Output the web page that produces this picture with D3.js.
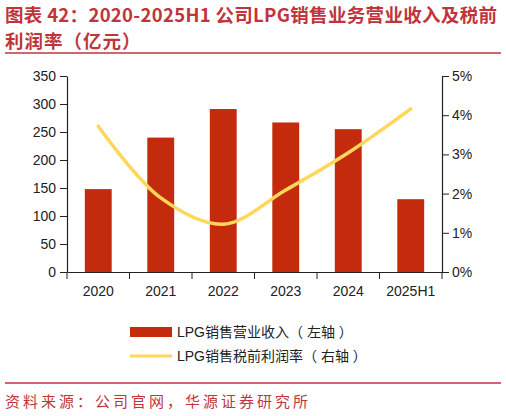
<!DOCTYPE html>
<html>
  <head>
    <meta charset="UTF-8">
    <title>LPG销售业务营业收入及税前利润率</title>
    <script src="https://d3js.org/d3.v7.min.js" charset="utf-8"></script>
    <style>
      body { margin: 0; background: #fff; }
    </style>
  </head>
  <body>
    <script>
        var w = 506;
        var h = 416;

        var years = ["2020", "2021", "2022", "2023", "2024", "2025H1"];
        var revenue = [148, 240, 291, 267, 255, 130];
        var margin = [3.72, 1.89, 1.22, 2.09, 3.04, 4.16];
        var leftTicks = [0, 50, 100, 150, 200, 250, 300, 350];
        var rightTicks = [0, 1, 2, 3, 4, 5];

        var titleColor = "#C0343C";
        var barColor = "#C42A0C";
        var lineColor = "#FFD75A";
        var sans = "'Liberation Sans', Arial, 'Noto Sans CJK SC', sans-serif";
        var cjk = "'Noto Sans CJK SC', sans-serif";

        var svg = d3.select("body").append("svg")
            .attr("width", w)
            .attr("height", h);

        //title
        var title = svg.append("text")
            .attr("fill", titleColor)
            .attr("font-family", cjk)
            .attr("font-weight", "bold")
            .attr("font-size", "18.5px");
        title.append("tspan").attr("x", 5).attr("y", 22)
            .attr("textLength", 492).attr("lengthAdjust", "spacing")
            .text("图表 42：2020-2025H1 公司LPG销售业务营业收入及税前");
        title.append("tspan").attr("x", 5).attr("y", 48)
            .attr("letter-spacing", "1px")
            .text("利润率（亿元）");

        svg.append("line")
            .attr("x1", 5).attr("x2", 501)
            .attr("y1", 53).attr("y2", 53)
            .attr("stroke", titleColor).attr("stroke-width", 1.5);

        //scales
        var x = d3.scaleBand().domain(years).range([67, 442]).paddingInner(0.57).paddingOuter(0.285);
        var xb = d3.scaleBand().domain(years).range([67, 442]);
        var yL = d3.scaleLinear().domain([0, 350]).range([272, 76]);
        var yR = d3.scaleLinear().domain([0, 5]).range([272, 76]);

        //bars
        svg.selectAll("rect.bar")
            .data(revenue)
            .enter()
            .append("rect")
            .attr("class", "bar")
            .attr("x", function(d, i){ return x(years[i]); })
            .attr("width", x.bandwidth())
            .attr("y", function(d){ return yL(d); })
            .attr("height", function(d){ return yL(0) - yL(d); })
            .attr("fill", barColor);

        //line
        var line = d3.line()
            .x(function(d, i){ return xb(years[i]) + xb.bandwidth() / 2; })
            .y(function(d){ return yR(d); })
            .curve(d3.curveCatmullRom.alpha(0.5));

        svg.append("path")
            .datum(margin)
            .attr("d", line)
            .attr("fill", "none")
            .attr("stroke", lineColor)
            .attr("stroke-width", 3.5)
            .attr("stroke-linecap", "round");

        //axes
        var axisL = svg.append("g")
            .attr("transform", "translate(67,0)")
            .call(d3.axisLeft(yL).tickValues(leftTicks).tickSize(7).tickPadding(4).tickSizeOuter(0));
        var axisR = svg.append("g")
            .attr("transform", "translate(442,0)")
            .call(d3.axisRight(yR).tickValues(rightTicks).tickSize(7).tickPadding(3).tickSizeOuter(0)
                .tickFormat(function(d){ return d + "%"; }));

        var axisX = svg.append("g")
            .attr("transform", "translate(0,272)")
            .call(d3.axisBottom(xb).tickSize(0).tickPadding(14));

        // band boundary ticks
        var bounds = years.map(function(d){ return xb(d); }).concat([442]);
        axisX.selectAll("line.bound")
            .data(bounds)
            .enter()
            .append("line")
            .attr("class", "bound")
            .attr("x1", function(d){ return d; })
            .attr("x2", function(d){ return d; })
            .attr("y1", 0).attr("y2", 7)
            .attr("stroke", "#222");

        [axisL, axisR, axisX].forEach(function(g){
            g.select(".domain").attr("stroke", "#222").attr("stroke-width", 1.2);
            g.selectAll(".tick line").attr("stroke", "#222");
            g.selectAll("text")
                .attr("font-family", sans)
                .attr("font-size", "14px")
                .attr("fill", "#222");
        });

        //legend
        var legend = svg.append("g");
        legend.append("rect")
            .attr("x", 130).attr("y", 327)
            .attr("width", 42).attr("height", 10)
            .attr("fill", barColor);
        legend.append("line")
            .attr("x1", 130).attr("x2", 172)
            .attr("y1", 356).attr("y2", 356)
            .attr("stroke", lineColor).attr("stroke-width", 3);
        legend.selectAll("text")
            .data(["LPG销售营业收入（ 左轴 ）", "LPG销售税前利润率（ 右轴 ）"])
            .enter()
            .append("text")
            .attr("x", 177)
            .attr("y", function(d, i){ return 337 + i * 24; })
            .attr("font-family", sans)
            .attr("font-size", "14px")
            .attr("fill", "#222")
            .text(function(d){ return d; });

        //source
        svg.append("line")
            .attr("x1", 5).attr("x2", 501)
            .attr("y1", 383).attr("y2", 383)
            .attr("stroke", titleColor).attr("stroke-width", 1.5);
        svg.append("text")
            .attr("x", 5).attr("y", 407)
            .attr("font-family", cjk)
            .attr("font-size", "15px")
            .attr("letter-spacing", "3px")
            .attr("fill", titleColor)
            .text("资料来源：公司官网，华源证券研究所");
    </script>
  </body>
</html>
